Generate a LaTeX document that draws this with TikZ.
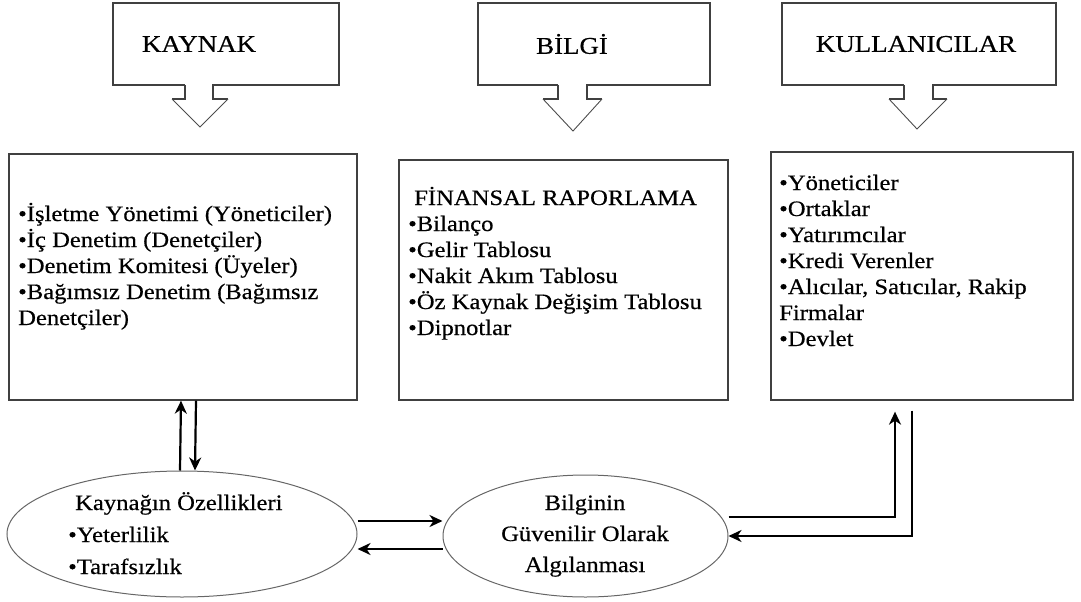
\documentclass[tikz,border=0pt]{standalone}
\usepackage{fontspec}
\setmainfont{Liberation Serif}[FakeStretch=1.12,FakeBold=0.5]
\usetikzlibrary{arrows.meta,calc,shapes.geometric}

\begin{document}
\begin{tikzpicture}[x=1pt,y=-1pt,
  frame/.style={draw=black!75, line width=1.3pt, inner sep=0pt},
  pointer/.style={draw=black!70, line width=0.9pt},
  oval/.style={ellipse, draw=black!60, line width=1pt, inner sep=0pt},
  title/.style={font=\fontsize{24}{28}\selectfont, inner sep=0pt},
  body/.style={inner sep=0pt, anchor=base west},
  arr/.style={line width=2.2pt, black, -{Stealth[length=13pt,width=12pt,inset=4pt]}}]

\useasboundingbox (0,0) rectangle (1081,602);

% callout boxes with block pointers
\draw[frame] (185,85) -- (113,85) -- (113,3) -- (339,3) -- (339,85) -- (213,85) -- (213,99) -- (228,99);
\draw[frame] (185,85) -- (185,99) -- (172,99);
\draw[pointer] (172,99) -- (200,127) -- (228,99);

\draw[frame] (558,85) -- (478,85) -- (478,3) -- (710,3) -- (710,85) -- (587,85) -- (587,99) -- (602,99);
\draw[frame] (558,85) -- (558,99) -- (543,99);
\draw[pointer] (543,99) -- (573,131) -- (602,99);

\draw[frame] (904,85) -- (782,85) -- (782,3) -- (1056,3) -- (1056,85) -- (933,85) -- (933,99) -- (947,99);
\draw[frame] (904,85) -- (904,99) -- (889,99);
\draw[pointer] (889,99) -- (917,129) -- (947,99);

\node[title] (tkaynak) at (199,44) {KAYNAK};
\node[title] (tbilgi) at (572,44) {BİLGİ};
\node[title] (tusers) at (916,44) {KULLANICILAR};

% content boxes
\node[frame, minimum width=348pt, minimum height=246pt] (src) at (183,277) {};
\node[frame, minimum width=329pt, minimum height=240pt] (info) at (563.5,280) {};
\node[frame, minimum width=302pt, minimum height=248pt] (users) at (922,276) {};

\node[body] (srctext) at (18,221) {\parbox[t]{340pt}{\fontsize{22}{26}\selectfont
•İşletme Yönetimi (Yöneticiler)\\
•İç Denetim (Denetçiler)\\
•Denetim Komitesi (Üyeler)\\
•Bağımsız Denetim (Bağımsız\\
Denetçiler)}};

\node[body] (infotext) at (408,205) {\parbox[t]{320pt}{\fontsize{22}{26}\selectfont
\hspace*{6pt}FİNANSAL RAPORLAMA\\
•Bilanço\\
•Gelir Tablosu\\
•Nakit Akım Tablosu\\
•Öz Kaynak Değişim Tablosu\\
•Dipnotlar}};

\node[body] (userstext) at (779,190) {\parbox[t]{295pt}{\fontsize{22}{26}\selectfont
•Yöneticiler\\
•Ortaklar\\
•Yatırımcılar\\
•Kredi Verenler\\
•Alıcılar, Satıcılar, Rakip\\
Firmalar\\
•Devlet}};

% ovals
\node[oval, minimum width=350pt, minimum height=126pt] (kell) at (182,534) {};
\node[oval, minimum width=285pt, minimum height=122pt] (mell) at (585.5,536) {};

\node[body] (kelltext) at (68,510) {\parbox[t]{260pt}{\fontsize{22}{32}\selectfont
\hspace*{7pt}Kaynağın Özellikleri\\
•Yeterlilik\\
•Tarafsızlık}};

\node[inner sep=0pt, anchor=base] (melltext) at (585,510) {\parbox[t]{260pt}{\centering\fontsize{22}{31}\selectfont
Bilginin\\
Güvenilir Olarak\\
Algılanması}};

% connectors
\draw[arr] ([xshift=-2pt]kell.north) -- ([xshift=-2pt]src.south);
\draw[arr] ([xshift=13pt]src.south) -- ([xshift=13pt]kell.north);

\coordinate (e1) at ($(kell.east)+(0,-13)$);
\draw[arr] (e1) -- (e1 -| mell.west);
\coordinate (e2) at ($(mell.west)+(0,13)$);
\draw[arr] (e2) -- (e2 -| kell.east);

\coordinate (u1) at ($(users.south)+(-27,11)$);
\coordinate (m1) at ($(mell.east)+(0,-19)$);
\draw[arr] (m1) -| (u1);
\coordinate (u2) at ($(users.south)+(-10,10)$);
\draw[arr] (u2) |- (mell.east);

\end{tikzpicture}
\end{document}
